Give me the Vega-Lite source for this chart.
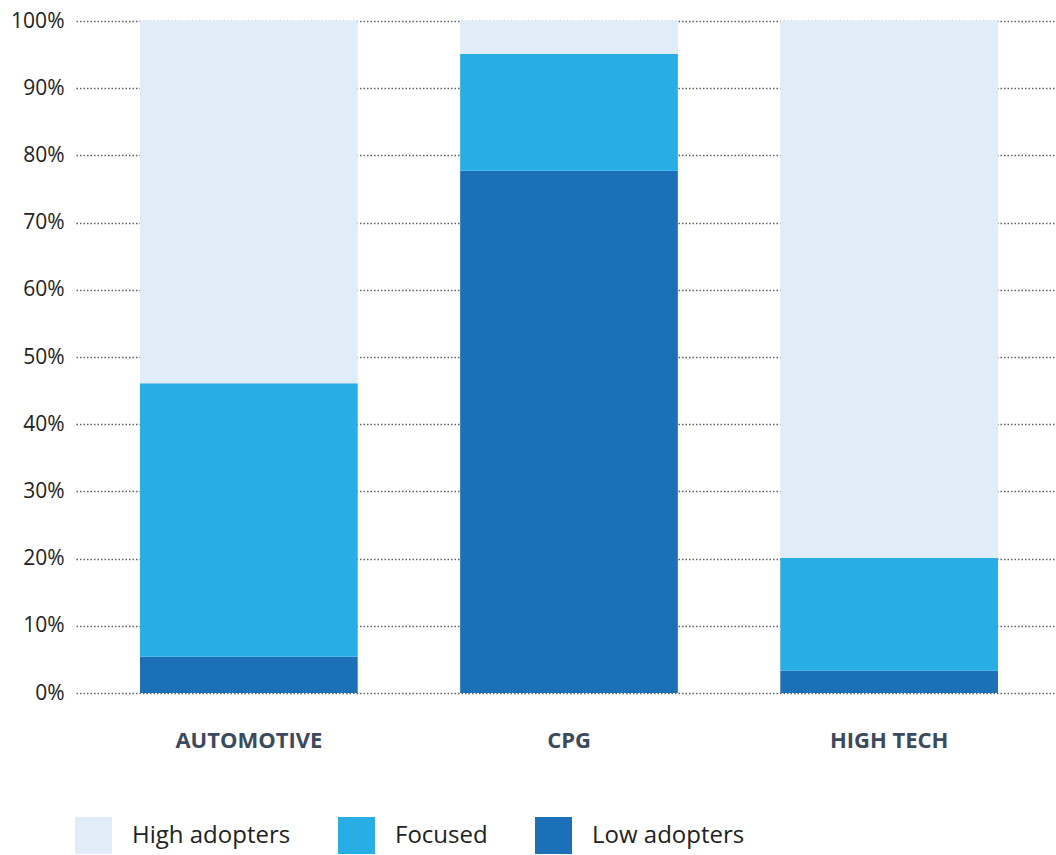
{
  "$schema": "https://vega.github.io/schema/vega-lite/v6.json",
  "width": 986,
  "height": 672,
  "autosize": {"type": "none"},
  "padding": {"left": 76, "top": 21, "right": 0, "bottom": 162},
  "background": "white",
  "data": {
    "values": [
      {"sector": "AUTOMOTIVE", "group": "Low adopters", "ord": 1, "value": 5.4},
      {"sector": "AUTOMOTIVE", "group": "Focused", "ord": 2, "value": 40.7},
      {"sector": "AUTOMOTIVE", "group": "High adopters", "ord": 3, "value": 53.9},
      {"sector": "CPG", "group": "Low adopters", "ord": 1, "value": 77.7},
      {"sector": "CPG", "group": "Focused", "ord": 2, "value": 17.4},
      {"sector": "CPG", "group": "High adopters", "ord": 3, "value": 4.9},
      {"sector": "HIGH TECH", "group": "Low adopters", "ord": 1, "value": 3.3},
      {"sector": "HIGH TECH", "group": "Focused", "ord": 2, "value": 16.8},
      {"sector": "HIGH TECH", "group": "High adopters", "ord": 3, "value": 79.9}
    ]
  },
  "mark": {"type": "bar"},
  "encoding": {
    "x": {
      "field": "sector",
      "type": "nominal",
      "sort": ["AUTOMOTIVE", "CPG", "HIGH TECH"],
      "scale": {"paddingInner": 0.32, "paddingOuter": 0.2},
      "axis": {
        "title": null,
        "domain": false,
        "ticks": false,
        "labelAngle": 0,
        "labelPadding": 37,
        "labelFont": "Open Sans",
        "labelFontSize": 22,
        "labelFontWeight": "bold",
        "labelColor": "#3b4a5c"
      }
    },
    "y": {
      "field": "value",
      "type": "quantitative",
      "stack": "zero",
      "scale": {"domain": [0, 100], "nice": false},
      "axis": {
        "title": null,
        "domain": false,
        "ticks": false,
        "values": [0, 10, 20, 30, 40, 50, 60, 70, 80, 90, 100],
        "labelExpr": "datum.value + '%'",
        "labelPadding": 12,
        "labelFont": "Open Sans",
        "labelFontSize": 21,
        "labelColor": "#222222",
        "grid": true,
        "gridColor": "#5a5f66",
        "gridDash": [1.5, 2],
        "gridWidth": 1.5
      }
    },
    "color": {
      "field": "group",
      "type": "nominal",
      "scale": {
        "domain": ["High adopters", "Focused", "Low adopters"],
        "range": ["#e0edf8", "#28ade4", "#1b70b8"]
      },
      "legend": {
        "title": null,
        "orient": "none",
        "direction": "horizontal",
        "legendX": -1,
        "legendY": 796,
        "symbolType": "square",
        "symbolSize": 1369,
        "symbolStrokeWidth": 0,
        "symbolOpacity": 1,
        "labelFont": "Open Sans",
        "labelFontSize": 24,
        "labelColor": "#222222",
        "labelOffset": 20,
        "columnPadding": 47,
        "labelLimit": 300
      }
    },
    "order": {"field": "ord", "type": "quantitative"}
  },
  "config": {"view": {"stroke": null}}
}
